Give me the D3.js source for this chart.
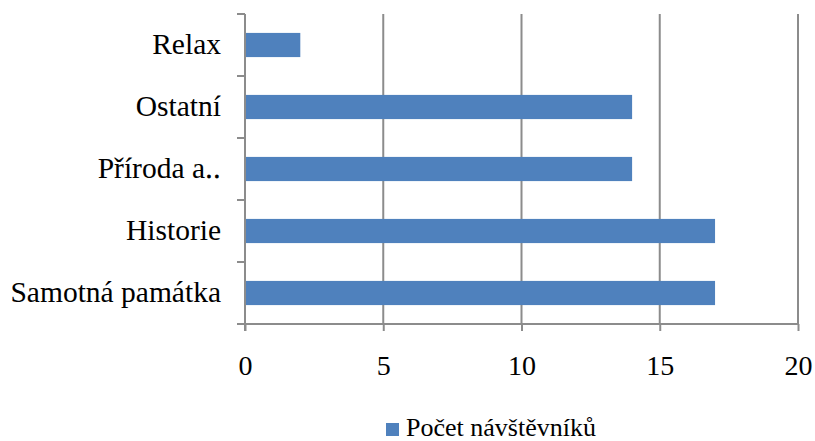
<!DOCTYPE html>
<html lang="cs">
<head>
<meta charset="UTF-8">
<title>Počet návštěvníků</title>
<script src="https://cdn.jsdelivr.net/npm/d3@7"></script>
<style>
    body { margin: 0; background: #fff; }
    text { font-family: "Liberation Serif", "Times New Roman", serif; fill: #000; }
</style>
</head>
<body>
<div id="main"></div>
<script>
    // data
    const categories = ['Relax', 'Ostatní', 'Příroda a‥', 'Historie', 'Samotná památka'];
    const visitors = [2, 14, 14, 17, 17];
    const xTicks = [0, 5, 10, 15, 20];
    const seriesName = 'Počet návštěvníků';

    const W = 815, H = 441;
    const plot = {left: 245, right: 798, top: 14, bottom: 324};
    const gridColor = '#8c8c8c';
    const barColor = '#4f81bd';
    const serif = '"Liberation Serif", "Times New Roman", serif';

    const svg = d3.select('#main').append('svg')
        .attr('width', W).attr('height', H);

    const x = d3.scaleLinear().domain([0, 20]).range([plot.left, plot.right]);
    const y = d3.scaleBand().domain(categories).range([plot.top, plot.bottom]).paddingInner(0.61).paddingOuter(0.305);
    const yb = d3.scaleBand().domain(categories).range([plot.top, plot.bottom]);

    // vertical gridlines
    svg.append('g').selectAll('line')
        .data(xTicks.slice(1))
        .enter().append('line')
        .attr('x1', d => x(d)).attr('x2', d => x(d))
        .attr('y1', plot.top).attr('y2', plot.bottom)
        .attr('stroke', gridColor).attr('stroke-width', 2);

    // bars
    svg.append('g').selectAll('rect')
        .data(categories)
        .enter().append('rect')
        .attr('x', x(0))
        .attr('y', d => y(d))
        .attr('width', (d, i) => x(visitors[i]) - x(0))
        .attr('height', y.bandwidth())
        .attr('fill', barColor);

    // x axis
    const xAxis = svg.append('g')
        .attr('transform', `translate(0,${plot.bottom})`)
        .call(d3.axisBottom(x).tickValues(xTicks).tickSize(7).tickPadding(24).tickSizeOuter(0));
    xAxis.select('.domain').attr('stroke', gridColor).attr('stroke-width', 2)
        .attr('d', `M${plot.left - 8},0H${plot.right}`);
    xAxis.selectAll('.tick line').attr('stroke', gridColor).attr('stroke-width', 2);
    xAxis.selectAll('.tick text').style('font-size', '28px').style('font-family', serif).attr('fill', '#000');

    // y axis
    const yAxis = svg.append('g')
        .attr('transform', `translate(${plot.left},0)`)
        .call(d3.axisLeft(yb).tickSize(0).tickPadding(24));
    yAxis.select('.domain').attr('stroke', gridColor).attr('stroke-width', 2)
        .attr('d', `M0,${plot.top}V${plot.bottom + 7}`);
    yAxis.selectAll('.tick text').style('font-size', '29.5px').style('font-family', serif).attr('fill', '#000');
    // category boundary ticks
    svg.append('g').selectAll('line')
        .data(categories)
        .enter().append('line')
        .attr('x1', plot.left - 8).attr('x2', plot.left)
        .attr('y1', d => yb(d)).attr('y2', d => yb(d))
        .attr('stroke', gridColor).attr('stroke-width', 2);

    // legend
    const legend = svg.append('g').attr('transform', 'translate(386,423)');
    legend.append('rect').attr('width', 13).attr('height', 13).attr('fill', barColor);
    legend.append('text').attr('x', 20).attr('y', 13)
        .style('font-size', '26px').style('font-family', serif).text(seriesName);
</script>
</body>
</html>
